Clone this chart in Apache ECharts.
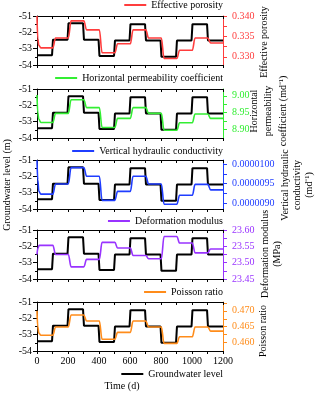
<!DOCTYPE html>
<html>
<head>
<meta charset="utf-8">
<script src="https://cdn.jsdelivr.net/npm/echarts@6.0.0/dist/echarts.min.js"></script>
<style>
html, body { margin: 0; padding: 0; background: #fff; }
#chart { width: 320px; height: 395px; }
</style>
</head>
<body>
<div id="chart"></div>
<script>
// tick labels
const timeTicks = [0, 200, 400, 600, 800, 1000, 1200];
const porosityTicks = [0.330, 0.335, 0.340];
const horizontalTicks = [8.90, 8.95, 9.00];
const verticalTicks = [0.0000090, 0.0000095, 0.0000100];
const modulusTicks = [23.45, 23.50, 23.55, 23.60];
const poissonTicks = [0.460, 0.465, 0.470];

// groundwater level (m) vs time (d)
const groundwaterLevel = [[0,-53.4],[97,-53.4],[103,-52.45],[197,-52.45],[203,-51.45],[297,-51.45],[303,-52.45],[397,-52.45],[403,-53.45],[497,-53.45],[503,-52.5],[597,-52.5],[603,-51.5],[697,-51.5],[703,-52.5],[797,-52.5],[803,-53.5],[897,-53.5],[903,-52.5],[997,-52.5],[1003,-51.5],[1097,-51.5],[1103,-52.5],[1200,-52.5]];

const effectivePorosity = [[0,0.3400],[5,0.3345],[12,0.3328],[25,0.3322],[102,0.3322],[120,0.3346],[202,0.3346],[220,0.3388],[302,0.3388],[320,0.3366],[402,0.3366],[420,0.3310],[502,0.3310],[520,0.3332],[602,0.3332],[620,0.3366],[702,0.3366],[720,0.3346],[802,0.3346],[820,0.3296],[902,0.3296],[920,0.3316],[1002,0.3316],[1020,0.3346],[1102,0.3346],[1120,0.3334],[1200,0.3334]];

const horizontalPermeability = [[0,9.002],[5,8.950],[12,8.930],[25,8.921],[102,8.921],[120,8.948],[202,8.948],[220,8.988],[302,8.988],[320,8.965],[402,8.965],[420,8.906],[502,8.906],[520,8.933],[602,8.933],[620,8.965],[702,8.965],[720,8.948],[802,8.948],[820,8.898],[902,8.898],[920,8.920],[1002,8.920],[1020,8.946],[1102,8.946],[1120,8.933],[1200,8.933]];

const verticalConductivity = [[0,1.010e-5],[5,9.60e-6],[12,9.30e-6],[25,9.23e-6],[102,9.23e-6],[120,9.49e-6],[202,9.49e-6],[220,9.91e-6],[302,9.91e-6],[320,9.69e-6],[402,9.69e-6],[420,9.07e-6],[502,9.07e-6],[520,9.30e-6],[602,9.30e-6],[620,9.69e-6],[702,9.69e-6],[720,9.49e-6],[802,9.49e-6],[820,8.97e-6],[902,8.97e-6],[920,9.20e-6],[1002,9.20e-6],[1020,9.48e-6],[1102,9.48e-6],[1120,9.34e-6],[1200,9.34e-6]];

const deformationModulus = [[0,23.525],[6,23.545],[14,23.553],[102,23.553],[120,23.525],[202,23.525],[220,23.487],[302,23.487],[320,23.510],[402,23.510],[420,23.562],[502,23.562],[520,23.545],[602,23.545],[620,23.522],[702,23.522],[720,23.512],[802,23.512],[820,23.580],[902,23.580],[920,23.560],[1002,23.560],[1020,23.530],[1102,23.530],[1120,23.542],[1200,23.542]];

const poissonRatio = [[0,0.4700],[5,0.4650],[12,0.4630],[25,0.4623],[102,0.4623],[120,0.4649],[202,0.4649],[220,0.4687],[302,0.4687],[320,0.4668],[402,0.4668],[420,0.4610],[502,0.4610],[520,0.4632],[602,0.4632],[620,0.4668],[702,0.4668],[720,0.4649],[802,0.4649],[820,0.4597],[902,0.4597],[920,0.4618],[1002,0.4618],[1020,0.4649],[1102,0.4649],[1120,0.4636],[1200,0.4636]];

const FONT = 'Liberation Serif';

const panels = [
  { name: 'Effective porosity', data: effectivePorosity, color: '#ff3d3d', top: 16,
    min: 0.3280, max: 0.3400, ticks: porosityTicks, minor: [0.3300, 0.3325, 0.3350, 0.3375, 0.3400], digits: 3,
    legendY: 6, title: [['Effective porosity', 264, 42]] },
  { name: 'Horizontal permeability coefficient', data: horizontalPermeability, color: '#33ee33', top: 89,
    min: 8.875, max: 9.02, ticks: horizontalTicks, minor: [8.90, 8.925, 8.95, 8.975, 9.00], digits: 2,
    legendY: 79, title: [['Horizontal', 254, 111], ['permeability', 268, 111], ['coefficient (md⁻¹)', 283, 111]] },
  { name: 'Vertical hydraulic conductivity', data: verticalConductivity, color: '#1f3dff', top: 160,
    min: 8.85e-6, max: 1.0104e-5, ticks: verticalTicks, minor: [9.0e-6, 9.25e-6, 9.5e-6, 9.75e-6, 1.0e-5], digits: 7,
    legendY: 152, title: [['Vertical hydraulic', 285, 185], ['conductivity', 297, 185], ['(md⁻¹)', 309, 185]] },
  { name: 'Deformation modulus', data: deformationModulus, color: '#9933ff', top: 230,
    min: 23.45, max: 23.60, ticks: modulusTicks, minor: [23.45, 23.475, 23.50, 23.525, 23.55, 23.575, 23.60], digits: 2,
    legendY: 222, title: [['Deformation modulus', 265, 254], ['(MPa)', 277, 254]] },
  { name: 'Poisson ratio', data: poissonRatio, color: '#ff8c1a', top: 302,
    min: 0.4573, max: 0.4728, ticks: poissonTicks, minor: [0.4600, 0.4625, 0.4650, 0.4675, 0.4700, 0.4725], digits: 3,
    legendY: 293, title: [['Poisson ratio', 263, 331]] }
];

const grid = [], xAxis = [], yAxis = [], series = [], legend = [], graphic = [];

panels.forEach((p, i) => {
  grid.push({ left: 37, right: 97, top: p.top, height: 49 });
  const last = i === panels.length - 1;
  xAxis.push({
    type: 'value', gridIndex: i, min: 0, max: 1200, interval: 100,
    axisLine: { show: true, onZero: false, lineStyle: { color: '#000', width: 1 } },
    axisTick: { show: true, inside: false, length: 3, lineStyle: { color: '#000' } },
    axisLabel: {
      show: last, margin: 5, color: '#000', fontFamily: FONT, fontSize: 10,
      formatter: v => (timeTicks.indexOf(v) >= 0 ? String(v) : '')
    },
    splitLine: { show: false }
  });
  xAxis.push({
    type: 'value', gridIndex: i, position: 'top', min: 0, max: 1200, interval: 100,
    axisLine: { show: true, onZero: false, lineStyle: { color: '#000', width: 1 } },
    axisTick: { show: true, inside: true, length: 3, lineStyle: { color: '#000' } },
    axisLabel: { show: false },
    splitLine: { show: false }
  });
  yAxis.push({
    type: 'value', gridIndex: i, min: -54, max: -51, interval: 1,
    axisLine: { show: true, onZero: false, lineStyle: { color: '#000', width: 1 } },
    axisTick: { show: true, length: 4, lineStyle: { color: '#000' } },
    minorTick: { show: true, splitNumber: 2, length: 2, lineStyle: { color: '#000' } },
    axisLabel: { margin: 5, color: '#000', fontFamily: FONT, fontSize: 10 },
    splitLine: { show: false }
  });
  yAxis.push({
    type: 'value', gridIndex: i, position: 'right', min: p.min, max: p.max,
    axisLine: { show: true, onZero: false, lineStyle: { color: p.color, width: 1 } },
    axisTick: { show: true, length: 4, customValues: p.minor, lineStyle: { color: p.color } },
    axisLabel: {
      customValues: p.ticks, margin: 9, color: p.color, fontFamily: FONT, fontSize: 10,
      formatter: v => Number(v).toFixed(p.digits)
    },
    splitLine: { show: false }
  });
  series.push({
    name: 'Groundwater level', type: 'line', xAxisIndex: 2 * i, yAxisIndex: 2 * i,
    data: groundwaterLevel, showSymbol: false, smooth: false,
    lineStyle: { color: '#000', width: 2 }, itemStyle: { color: '#000' }
  });
  series.push({
    name: p.name, type: 'line', xAxisIndex: 2 * i, yAxisIndex: 2 * i + 1,
    data: p.data, showSymbol: false, smooth: 0.4, smoothMonotone: 'x',
    lineStyle: { color: p.color, width: 1.6 }, itemStyle: { color: p.color }
  });
  legend.push({
    data: [p.name], right: 97, top: p.legendY - 6, padding: 0,
    icon: 'rect', itemWidth: 22, itemHeight: 2,
    textStyle: { fontFamily: FONT, fontSize: 10, color: '#000' }
  });
  p.title.forEach(t => {
    graphic.push({
      type: 'text', x: t[1], y: t[2], rotation: Math.PI / 2,
      style: { text: t[0], fontFamily: FONT, fontSize: 10, fill: '#000', align: 'center', verticalAlign: 'middle' }
    });
  });
});

legend.push({
  data: ['Groundwater level'], right: 97, top: 369, padding: 0,
  icon: 'rect', itemWidth: 22, itemHeight: 2,
  textStyle: { fontFamily: FONT, fontSize: 10, color: '#000' }
});

graphic.push({
  type: 'text', x: 7, y: 185, rotation: Math.PI / 2,
  style: { text: 'Groundwater level (m)', fontFamily: FONT, fontSize: 10, fill: '#000', align: 'center', verticalAlign: 'middle' }
});
graphic.push({
  type: 'text', x: 122, y: 386,
  style: { text: 'Time (d)', fontFamily: FONT, fontSize: 10, fill: '#000', align: 'center', verticalAlign: 'middle' }
});

const chart = echarts.init(document.getElementById('chart'));
chart.setOption({
  animation: false,
  backgroundColor: '#fff',
  grid: grid,
  xAxis: xAxis,
  yAxis: yAxis,
  legend: legend,
  graphic: graphic,
  series: series
});
</script>
</body>
</html>
